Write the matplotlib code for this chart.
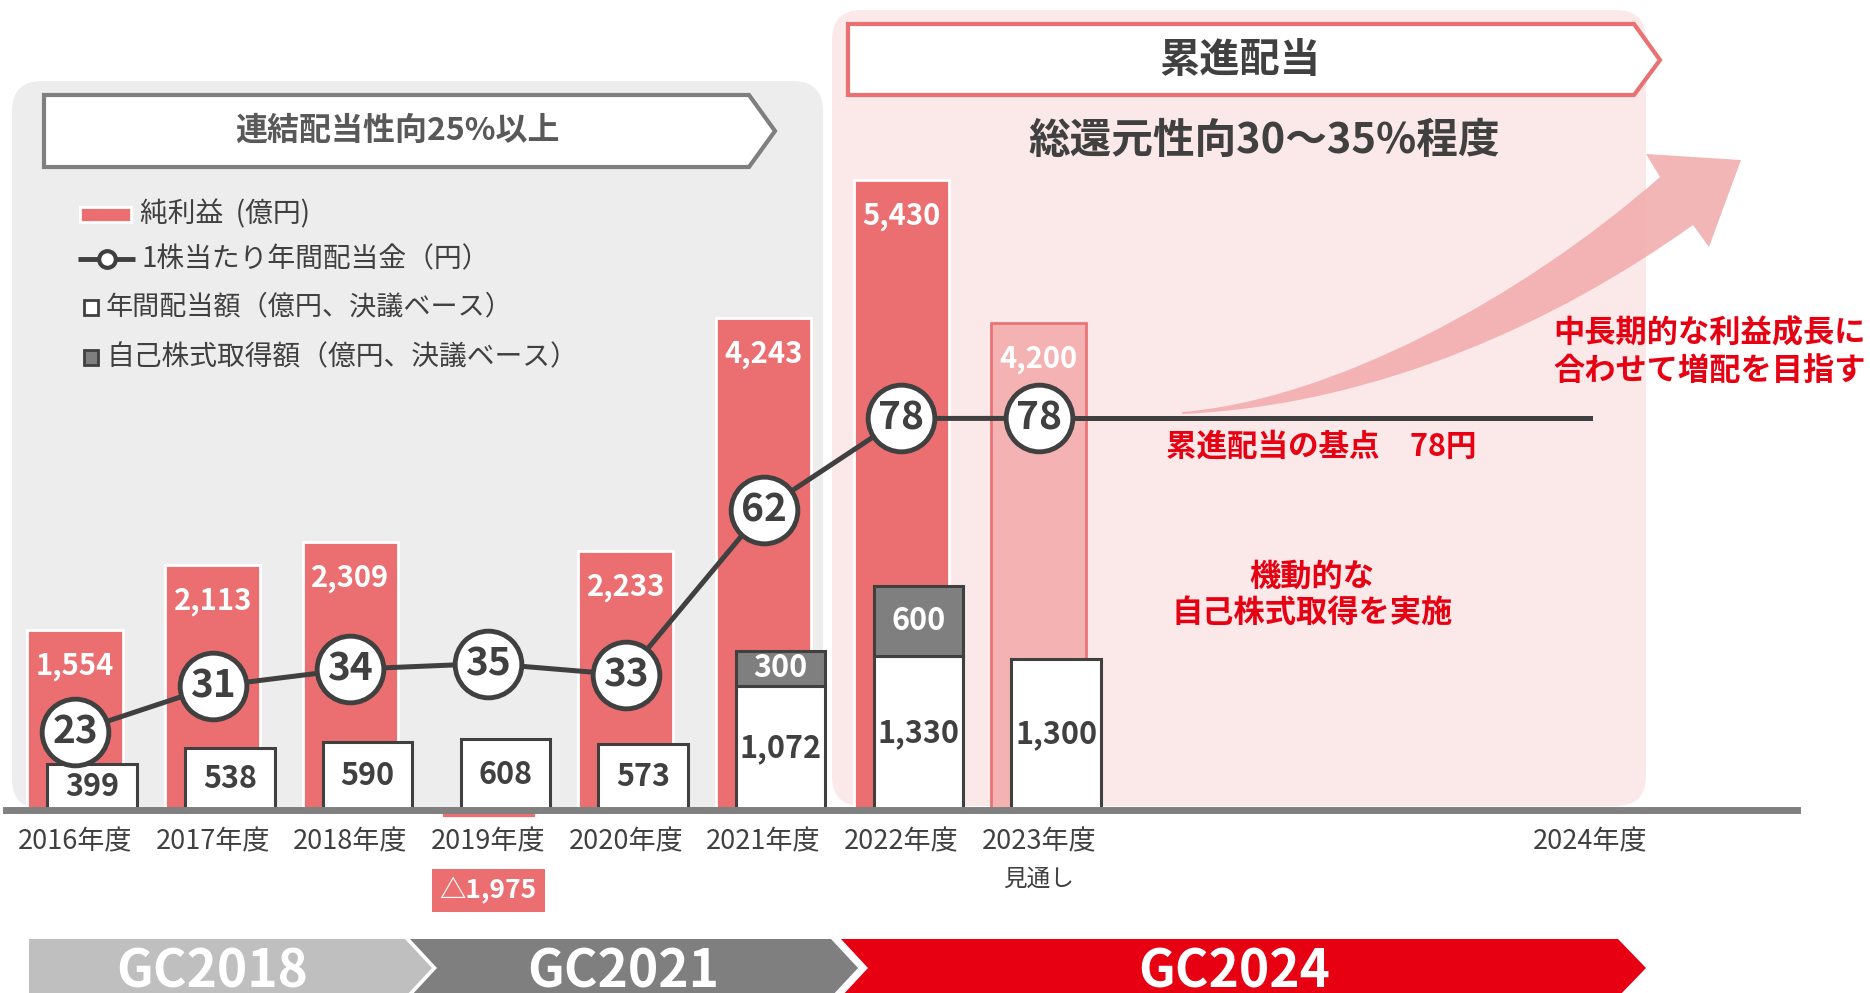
import matplotlib
matplotlib.use('Agg')
import matplotlib.pyplot as plt
from matplotlib.patches import FancyBboxPatch, Polygon, PathPatch, Rectangle
from matplotlib.path import Path

plt.rcParams['font.family'] = ['Noto Sans CJK JP', 'DejaVu Sans']

# data
years = ['2016年度', '2017年度', '2018年度', '2019年度', '2020年度', '2021年度', '2022年度', '2023年度', '2024年度']
year_pos = [0, 1, 2, 3, 4, 5, 6, 7, 11]
net_income = [1554, 2113, 2309, -1975, 2233, 4243, 5430, 4200]
dividend_total = [399, 538, 590, 608, 573, 1072, 1330, 1300]
buyback = [0, 0, 0, 0, 0, 300, 600, 0]
dps = [23, 31, 34, 35, 33, 62, 78, 78]
dps_base = 78
phases = ['GC2018', 'GC2021', 'GC2024']

dark = '#404040'
red = '#EB6E70'
pink = '#F4B2B3'
txt_red = '#E60012'

fig = plt.figure(figsize=(18.7, 9.93), dpi=100)

# background / decoration layer in pixel coords
bg = fig.add_axes([0, 0, 1, 1], zorder=0)
bg.set_xlim(0, 1870)
bg.set_ylim(993, 0)
bg.axis('off')

bg.add_patch(FancyBboxPatch((12, 81), 811, 728, boxstyle='round,pad=0,rounding_size=30',
                            fc='#EDEDED', ec='none'))
bg.add_patch(FancyBboxPatch((832, 10), 814, 796, boxstyle='round,pad=0,rounding_size=30',
                            fc='#FBE8E9', ec='none'))

# banners
bg.add_patch(Polygon([(44, 95), (749, 95), (775, 131), (749, 167), (44, 167)],
                     closed=True, fc='white', ec='#7F7F7F', lw=3))
bg.text(397, 131, '連結配当性向25%以上', ha='center', va='center', fontsize=23,
        fontweight='bold', color='#595959')
bg.add_patch(Polygon([(848, 24), (1634, 24), (1660, 60), (1634, 95), (848, 95)],
                     closed=True, fc='white', ec='#EB7072', lw=3))
bg.text(1240, 60, '累進配当', ha='center', va='center', fontsize=29,
        fontweight='bold', color=dark)
bg.text(1264, 141, '総還元性向30〜35%程度', ha='center', va='center', fontsize=30,
        fontweight='bold', color=dark)

# legend
bg.add_patch(Rectangle((80, 207), 51, 15, fc=red, ec='white', lw=2))
bg.text(140, 214, '純利益  (億円)', va='center', fontsize=20, color=dark)
bg.plot([78, 135], [259, 259], color=dark, lw=3.5, solid_capstyle='butt')
bg.plot([107], [259], 'o', ms=12, mfc='white', mec=dark, mew=3)
bg.text(141, 259, '1株当たり年間配当金（円）', va='center', fontsize=20, color=dark)
bg.add_patch(Rectangle((84, 300), 14, 15, fc='white', ec=dark, lw=2))
bg.text(106, 307, '年間配当額（億円、決議ベース）', va='center', fontsize=19.5, color=dark)
bg.add_patch(Rectangle((84, 350), 14, 15, fc='#7F7F7F', ec=dark, lw=2))
bg.text(106, 357, '自己株式取得額（億円、決議ベース）', va='center', fontsize=20, color=dark)

# growth arrow
verts = [(1182, 412), (1330, 400), (1520, 300), (1660, 177),
         (1646, 154), (1741, 160), (1709, 247), (1693, 225),
         (1560, 320), (1380, 405), (1182, 414), (1182, 412)]
codes = [Path.MOVETO, Path.CURVE4, Path.CURVE4, Path.CURVE4,
         Path.LINETO, Path.LINETO, Path.LINETO, Path.LINETO,
         Path.CURVE4, Path.CURVE4, Path.CURVE4, Path.CLOSEPOLY]
bg.add_patch(PathPatch(Path(verts, codes), fc='#F2A9AA', ec='none', alpha=0.85, zorder=3))

# annotations
bg.text(1321, 447, '累進配当の基点　78円', ha='center', va='center', fontsize=22,
        fontweight='bold', color=txt_red)
bg.text(1312, 595, '機動的な\n自己株式取得を実施', ha='center', va='center', fontsize=22.5,
        fontweight='bold', color=txt_red, linespacing=1.18)
bg.text(1553, 352, '中長期的な利益成長に\n合わせて増配を目指す', ha='left', va='center', fontsize=22.5,
        fontweight='bold', color=txt_red, linespacing=1.22)

# phase chevrons
bg.add_patch(Polygon([(29, 939), (405, 939), (432, 968), (405, 997), (29, 997)], fc='#BFBFBF', ec='none'))
bg.add_patch(Polygon([(410, 939), (831, 939), (858, 968), (831, 997), (410, 997), (437, 968)],
                     fc='#7F7F7F', ec='none'))
bg.add_patch(Polygon([(841, 939), (1618, 939), (1646, 968), (1618, 997), (841, 997), (868, 968)],
                     fc='#E60012', ec='none'))
for name, cx in zip(phases, [212, 623, 1234]):
    bg.text(cx, 972, name, ha='center', va='center', fontsize=37, fontweight='bold', color='white')

# chart layer
px = 137.7      # pixels per year slot
per_px = 8.62   # 億円 per pixel
ax = fig.add_axes([0, 0, 1, 1], zorder=2)
ax.patch.set_alpha(0)
ax.axis('off')
ax.set_xlim(-75 / px, (1870 - 75) / px)
ax.set_ylim(-(993 - 810) * per_px, 810 * per_px)

pos = year_pos[:len(net_income)]
bar_h = [max(v, -70) for v in net_income]
colors = [pink if i == 7 else red for i in range(len(pos))]
edges = ['#E97475' if i == 7 else 'white' for i in range(len(pos))]
ax.bar(pos, bar_h, width=0.69, color=colors, edgecolor=edges, linewidth=2, zorder=2)

off = 0.125
ax.bar([p + off for p in pos], dividend_total, width=0.65, color='white', edgecolor=dark,
       linewidth=2.2, zorder=3)
bb_pos = [p + off for p, b in zip(pos, buyback) if b > 0]
bb_val = [b for b in buyback if b > 0]
bb_bot = [d for d, b in zip(dividend_total, buyback) if b > 0]
ax.bar(bb_pos, bb_val, bottom=bb_bot, width=0.65, color='#7F7F7F', edgecolor=dark,
       linewidth=2.2, zorder=3)

ax.axhline(0, xmin=6 / 1870, xmax=1797 / 1870, color='#808080', lw=5, zorder=4)

for p, v in zip(pos, net_income):
    if v > 0:
        ax.annotate(f'{v:,}', (p, v), xytext=(0, -26), textcoords='offset points', ha='center',
                    va='center', color='white', fontsize=21, fontweight='bold', zorder=5)
    else:
        ax.annotate(f'△{abs(v):,}', (p, 0), xytext=(0, -58), textcoords='offset points',
                    ha='center', va='center', color='white', fontsize=19, fontweight='bold',
                    bbox=dict(boxstyle='square,pad=0.3', fc=red, ec='none'), zorder=5)
for p, d in zip(pos, dividend_total):
    ax.text(p + off, d / 2, f'{d:,}', ha='center', va='center', color=dark, fontsize=22,
            fontweight='bold', zorder=5)
for p, d, b in zip(pos, dividend_total, buyback):
    if b > 0:
        ax.text(p + off, d + b / 2, f'{b:,}', ha='center', va='center', color='white',
                fontsize=22, fontweight='bold', zorder=5)

for p, label in zip(year_pos, years):
    ax.annotate(label, (p, 0), xytext=(0, -23), textcoords='offset points', ha='center',
                va='center', fontsize=19.5, color=dark)
ax.annotate('見通し', (7, 0), xytext=(0, -50), textcoords='offset points', ha='center',
            va='center', fontsize=17, color=dark)

# dividend per share line
ax2 = ax.twinx()
ax2.set_zorder(3)
ax2.axis('off')
ax2.set_ylim(-22.8, 151.4)
ax2.plot([7, 11], [dps[-1], dps_base], color=dark, lw=3.6, zorder=1)
ax2.plot(pos, dps, color=dark, lw=3.6, marker='o', ms=48, mfc='white', mec=dark, mew=3.5, zorder=2)
for p, v in zip(pos, dps):
    ax2.text(p, v, str(v), ha='center', va='center', fontsize=28, fontweight='bold',
             color=dark, zorder=3)

fig.savefig('out.png', dpi=100)
